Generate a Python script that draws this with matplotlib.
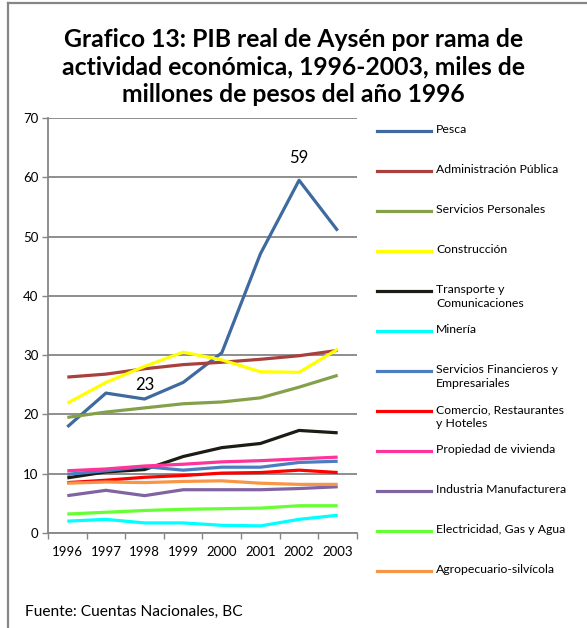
import matplotlib
matplotlib.use("Agg")
import matplotlib.pyplot as plt
from matplotlib.lines import Line2D

plt.rcParams['font.family'] = ['Lato', 'DejaVu Sans']

# data (miles de millones de pesos de 1996)
years = ["1996", "1997", "1998", "1999", "2000", "2001", "2002", "2003"]

pesca = [17.9, 23.6, 22.6, 25.4, 30.4, 47.1, 59.5, 51.0]
admin_publica = [26.3, 26.8, 27.7, 28.4, 28.8, 29.3, 29.9, 30.8]
serv_personales = [19.5, 20.4, 21.1, 21.8, 22.1, 22.8, 24.6, 26.6]
construccion = [21.9, 25.4, 28.1, 30.5, 29.2, 27.2, 27.1, 31.0]
transporte = [9.3, 10.3, 10.7, 12.9, 14.4, 15.1, 17.3, 16.9]
mineria = [2.0, 2.3, 1.7, 1.7, 1.3, 1.2, 2.3, 3.0]
serv_financieros = [9.9, 10.5, 11.2, 10.6, 11.1, 11.1, 11.9, 12.1]
comercio = [8.5, 8.9, 9.4, 9.7, 10.1, 10.2, 10.6, 10.2]
propiedad_vivienda = [10.5, 10.8, 11.3, 11.6, 12.0, 12.2, 12.5, 12.8]
industria = [6.3, 7.2, 6.3, 7.3, 7.3, 7.3, 7.5, 7.8]
electricidad = [3.2, 3.5, 3.8, 4.0, 4.1, 4.2, 4.6, 4.6]
agropecuario = [8.4, 8.6, 8.5, 8.7, 8.8, 8.4, 8.2, 8.2]

labels = ["Pesca", "Administración Pública", "Servicios Personales", "Construcción",
          "Transporte y\nComunicaciones", "Minería", "Servicios Financieros y\nEmpresariales",
          "Comercio, Restaurantes\ny Hoteles", "Propiedad de vivienda",
          "Industria Manufacturera", "Electricidad, Gas y Agua", "Agropecuario-silvícola"]
series = [pesca, admin_publica, serv_personales, construccion, transporte, mineria,
          serv_financieros, comercio, propiedad_vivienda, industria, electricidad, agropecuario]
colors = ["#3F6A9F", "#A8403D", "#84A04A", "#FFFF00", "#1C1C14", "#00FFFF",
          "#4A7EC0", "#FF0000", "#FF3399", "#8064A2", "#66FF33", "#F79646"]

fig = plt.figure(figsize=(5.87, 6.28), dpi=100)
W, H = 587, 628

# outer frame of the chart (cropped on the right and bottom)
frame = dict(color="#868686", lw=1.6, transform=fig.transFigure)
fig.add_artist(Line2D([8 / W, 1.0], [1 - 3 / H, 1 - 3 / H], **frame))
fig.add_artist(Line2D([8 / W, 8 / W], [0.0, 1 - 3 / H], **frame))

ax = fig.add_axes([48 / W, (H - 533) / H, (357 - 48) / W, (533 - 118) / H])
x = list(range(len(years)))

for vals, c, lab in zip(series, colors, labels):
    ax.plot(x, vals, color=c, lw=2.3, solid_capstyle="butt", label=lab)

ax.set_xlim(-0.5, len(years) - 0.5)
ax.set_ylim(0, 70)
ax.set_yticks(range(0, 71, 10))
ax.set_xticks(x)
ax.set_xticklabels(years)
ax.set_xticks([i - 0.5 for i in range(len(years) + 1)], minor=True)
ax.tick_params(axis="x", which="major", length=0, pad=9, labelsize=9.5)
ax.tick_params(axis="x", which="minor", length=4, color="#868686", width=1)
ax.tick_params(axis="y", length=4, color="#868686", width=1, labelsize=9.5, pad=3)
ax.yaxis.grid(True, color="#868686", lw=1.3)
ax.set_axisbelow(True)
for s in ["top", "right"]:
    ax.spines[s].set_visible(False)
for s in ["left", "bottom"]:
    ax.spines[s].set_color("#868686")
    ax.spines[s].set_linewidth(1.3)

# data labels
ax.annotate("23", (2, pesca[2]), xytext=(0, 4), textcoords="offset points",
            ha="center", va="bottom", fontsize=12)
ax.annotate("59", (6, pesca[6]), xytext=(0, 10), textcoords="offset points",
            ha="center", va="bottom", fontsize=12)

fig.text(0.5, 1 - 67 / H, "Grafico 13: PIB real de Aysén por rama de\n"
         "actividad económica, 1996-2003, miles de\nmillones de pesos del año 1996",
         ha="center", va="center", fontsize=17.8, fontweight="bold", linespacing=1.22)

# legend drawn as a column of entries
for i, (lab, c) in enumerate(zip(labels, colors)):
    yy = 1 - (131 + 40 * i) / H
    fig.add_artist(Line2D([377 / W, 431 / W], [yy, yy], color=c, lw=2.3,
                          transform=fig.transFigure))
    fig.text(436 / W, yy + 7 / H, lab, ha="left", va="top", fontsize=8.8,
             linespacing=1.3)

fig.text(25 / W, 1 - 612 / H, "Fuente: Cuentas Nacionales, BC", ha="left",
         va="center", fontsize=11.2)

fig.savefig("out.png", dpi=100)
